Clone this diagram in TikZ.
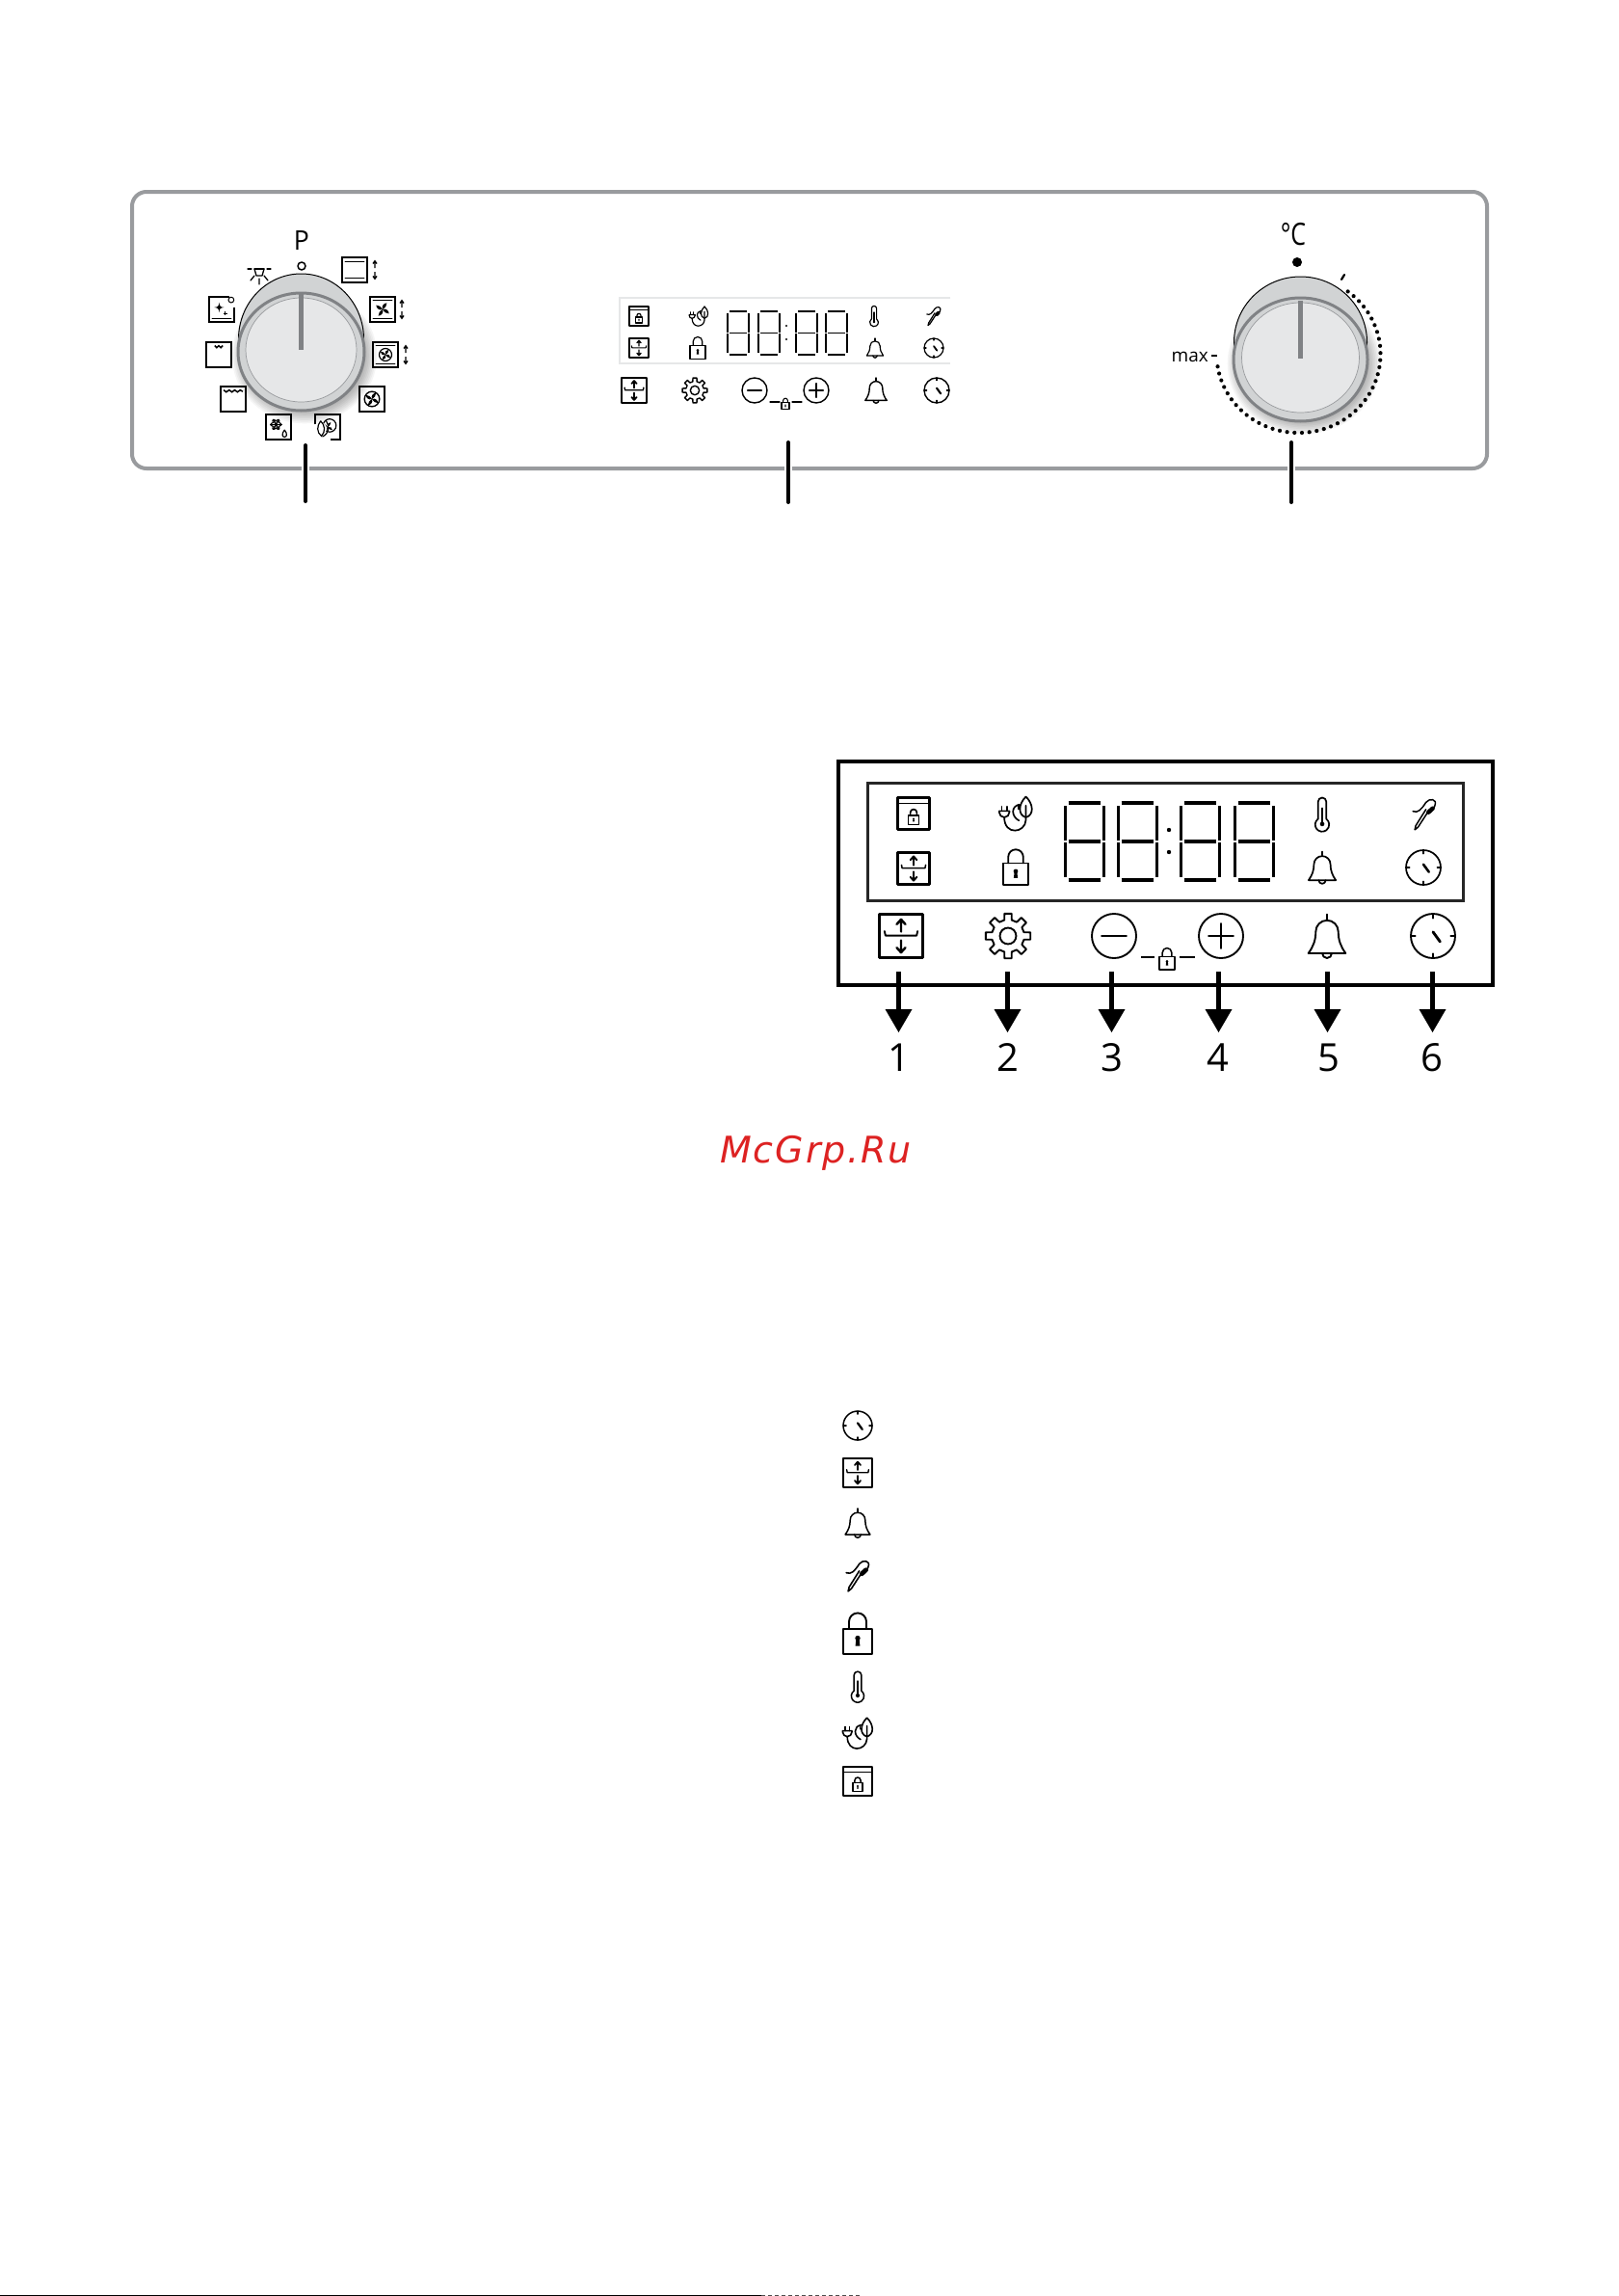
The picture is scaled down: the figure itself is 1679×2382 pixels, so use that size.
\documentclass[tikz,border=0pt]{standalone}
\usepackage{fontspec}
\setmainfont{Open Sans}
\newfontfamily\wmfont{DejaVu Sans}
\definecolor{panelgray}{HTML}{999B9E}
\definecolor{bodygray}{HTML}{D1D3D4}
\definecolor{facegray}{HTML}{E6E7E8}
\definecolor{rimgray}{HTML}{808285}
\definecolor{wmred}{HTML}{DD2222}
\tikzset{
  ink/.style={draw=black,line cap=round,line join=round},
  leader/.style={draw=black,line width=4pt,line cap=round},
  halo/.style={draw=white,line width=8pt},
  callout/.style={draw=black,line width=4.5pt,shorten >=20pt},
  callhead/.style={fill=black,draw=none},
  digitlabel/.style={font=\fontsize{40}{40}\selectfont,inner sep=0pt,anchor=center},
  seg/.style={draw=black,line cap=butt},
  fnline/.style={line width=1.5pt,line join=miter},
  fnthin/.style={line width=1.2pt,line cap=round}
}
\newcommand{\iclock}[4]{\begin{scope}[shift={(#1,#2)},scale=#3,line width=#4pt]
 \draw[ink] (0,0) circle[radius=50];
 \draw[ink] (0,-50)--(0,-40) (0,50)--(0,40) (-50,0)--(-40,0) (50,0)--(40,0);
 \draw[ink,line width=1.5*#4pt] (0,-9)--(16,13);
\end{scope}}
\newcommand{\iupdown}[4]{\begin{scope}[shift={(#1,#2)},scale=#3,line width=#4pt]
 \draw[ink,line width=1.4*#4pt,line cap=butt] (-50,-50) rectangle (50,50);
 \draw[ink] (-38,-11)--(-36,-1)--(36,-1)--(38,-11);
 \draw[ink,line width=1.3*#4pt] (0,-10)--(0,-38) (-10,-27)--(0,-38)--(10,-27);
 \draw[ink,line width=1.3*#4pt] (0,10)--(0,38) (-10,27)--(0,38)--(10,27);
\end{scope}}
\newcommand{\ibell}[4]{\begin{scope}[shift={(#1,#2)},scale=#3,line width=#4pt]
 \draw[ink] (0,-50)--(0,-38);
 \draw[ink] (-43,40)--(43,40) .. controls (32,25) and (26,10) .. (26,-10)
   arc (0:-180:26) .. controls (-26,10) and (-32,25) .. (-43,40);
 \draw[ink] (-11,40) arc (180:0:11);
\end{scope}}
\newcommand{\ilockbody}{%
 \draw[ink] (-50,-17) rectangle (50,70);
 \draw[ink] (-30,-17)--(-30,-42) arc (180:360:30)--(30,-17);
 \fill (0,15) circle[radius=9];
 \fill (-5,15)--(5,15)--(8,42)--(-8,42)--cycle;}
\newcommand{\ilock}[4]{\begin{scope}[shift={(#1,#2)},scale=#3,line width=#4pt]
 \ilockbody
\end{scope}}
\newcommand{\ilockbox}[4]{\begin{scope}[shift={(#1,#2)},scale=#3,line width=#4pt]
 \draw[ink,line cap=butt,line width=1.25*#4pt] (-50,-50) rectangle (50,50);
 \draw[ink,line cap=butt,line width=1.1*#4pt] (-50,-32)--(50,-32);
 \begin{scope}[shift={(0,11)},scale=.34]\ilockbody\end{scope}
\end{scope}}
\newcommand{\itherm}[4]{\begin{scope}[shift={(#1,#2)},scale=#3,line width=#4pt]
 \draw[ink] (13,14)--(13,-40) arc (0:-180:13)--(-13,14) arc (234:-54:22);
 \draw[ink] (0,-20)--(0,30);
 \fill (0,30) circle[radius=7];
\end{scope}}
\newcommand{\iprobe}[4]{\begin{scope}[shift={(#1,#2)},scale=#3,line width=#4pt]
 \draw[ink] (-36,-10) .. controls (-20,-4) and (-10,-15) .. (5,-38) .. controls (15,-52) and (42,-50) .. (33,-28) -- (29,-20);
 \draw[ink,line width=3*#4pt] (13,-7)--(26,-19);
 \draw[ink] (12,-9)--(-20,40)--(-30,48)--(-27,35)--(5,-16);
\end{scope}}
\newcommand{\ieco}[4]{\begin{scope}[shift={(#1,#2)},scale=#3,line width=#4pt]
 \draw[ink] (32,-53) .. controls (8,-30) and (6,5) .. (32,12) .. controls (58,5) and (56,-30) .. (32,-53);
 \draw[ink] (32,-25)--(32,20) .. controls (30,62) and (-36,70) .. (-36,12);
 \draw[ink] (12,-28) .. controls (-16,-24) and (-14,10) .. (10,22);
 \draw[ink] (8,-28) -- (8,-14);
 \draw[ink] (-20,-8)--(-20,-4) arc (0:180:16)--(-52,-8)--cycle;
 \draw[ink] (-44,-8)--(-44,-22) (-28,-8)--(-28,-22);
\end{scope}}
\newcommand{\igear}[4]{\begin{scope}[shift={(#1,#2)},scale=#3,line width=#4pt]
 \draw[ink] (-13:36) \foreach \a in {0,45,...,315}{ -- ({\a-13}:36) -- ({\a-9}:50) -- ({\a+9}:50) -- ({\a+13}:36)} -- cycle;
 \draw[ink] (0,0) circle[radius=18];
\end{scope}}
\newcommand{\iminus}[4]{\begin{scope}[shift={(#1,#2)},scale=#3,line width=#4pt]
 \draw[ink] (0,0) circle[radius=50];
 \draw[ink] (-28,0)--(28,0);
\end{scope}}
\newcommand{\iplus}[4]{\begin{scope}[shift={(#1,#2)},scale=#3,line width=#4pt]
 \draw[ink] (0,0) circle[radius=50];
 \draw[ink] (-28,0)--(28,0) (0,-28)--(0,28);
\end{scope}}
\newcommand{\lcd}[6]{\begin{scope}[shift={(#1,#2)},x=1pt,y=1pt]
 \pgfmathsetmacro{\g}{#5*0.9}
 \pgfmathsetmacro{\m}{#4/2}
 \draw[seg,line width=#5pt] (0,\g)--(0,\m-\g*.3) (0,\m+\g*.3)--(0,#4-\g) (#3,\g)--(#3,\m-\g*.3) (#3,\m+\g*.3)--(#3,#4-\g);
 \draw[seg,line width=#6pt] (\g,0)--(#3-\g,0) (\g,\m)--(#3-\g,\m) (\g,#4)--(#3-\g,#4);
\end{scope}}
\newcommand{\fanglyph}[1]{\begin{scope}[scale=#1]
 \foreach \a in {45,135,225,315}{
  \fill[rotate=\a] (0,0) .. controls (6,-14) and (22,-14) .. (30,-6) .. controls (22,0) and (10,6) .. (0,0);}
\end{scope}}
\newcommand{\ubox}{\draw[fnline] (-50,-50) rectangle (50,50);}
\newcommand{\updownsmall}[2]{\begin{scope}[shift={(#1,#2)},line width=1.3pt]
 \draw (0,-9)--(0,-2) (-2,-6.5)--(0,-9.3)--(2,-6.5);
 \draw (0,2)--(0,9) (-2,6.5)--(0,9.3)--(2,6.5);
\end{scope}}
\begin{document}
\begin{tikzpicture}[x=1pt,y=1pt,yscale=-1]
\useasboundingbox (0,0) rectangle (1679,2382);
\fill[white] (0,0) rectangle (1679,2382);

% ---------- top panel ----------
\draw[panelgray,line width=4pt,rounded corners=15pt] (137,199) rectangle (1543,486);

% left knob
\foreach \k in {1,...,9}{\fill[black,opacity=.04] (316,369) ellipse[x radius={60+\k*1.7},y radius={55+\k*1.7}];}
\fill[bodygray,draw=black,line width=1pt] (312.5,352) ellipse[x radius=65,y radius=68];
\fill[bodygray,draw=rimgray,line width=3pt] (312.5,365) ellipse[x radius=65.5,y radius=61];
\fill[facegray,draw=panelgray,line width=.7pt] (312.5,363) ellipse[x radius=57.5,y radius=54];
\fill[rimgray] (309.5,305) rectangle (315,363);

\node[inner sep=0pt] (pLabel) at (313,250) {\scalebox{.95}[1]{\fontsize{28}{28}\selectfont P}};
\draw[ink,line width=1.5pt] (313,276) circle[radius=4];
% lamp
\begin{scope}[shift={(269,285)},line width=1.3pt]
 \draw[ink] (-12,-6)--(-8,-6) (-5,-6)--(5,-6) (8,-6)--(12,-6);
 \draw[ink] (-5,-6)--(-3,1)--(3,1)--(5,-6);
 \draw[ink] (0,4)--(0,10) (-5,1)--(-9,6) (5,1)--(9,6);
\end{scope}
% oven function icons
\begin{scope}[shift={(368,280)},scale=.26] \ubox \draw[fnthin] (-38,-33)--(38,-33) (-38,33)--(38,33); \end{scope}
\updownsmall{389}{280}
\begin{scope}[shift={(397,321)},scale=.26] \ubox \draw[fnthin] (-38,-36)--(38,-36) (-38,36)--(38,36); \fanglyph{1.0} \end{scope}
\updownsmall{417}{321}
\begin{scope}[shift={(400,368)},scale=.26] \ubox \draw[fnthin] (-38,-36)--(38,-36) (-38,36)--(38,36); \fanglyph{.8} \draw[fnthin] (0,0) circle[radius=25]; \end{scope}
\updownsmall{421}{368}
\begin{scope}[shift={(386,414)},scale=.26] \ubox \fanglyph{.95} \draw[line width=1.4pt] (0,0) circle[radius=30]; \end{scope}
% eco fan (box open at lower left)
\begin{scope}[shift={(340,443)},scale=.26]
 \draw[fnline] (-50,-10)--(-50,-50)--(50,-50)--(50,50)--(10,50);
 \fanglyph{.75} \draw[fnthin] (8,-6) circle[radius=26];
 \fill[white] (-28,6) circle[radius=24];
 \draw[fnthin] (-28,-24) .. controls (-44,-5) and (-44,22) .. (-25,36) .. controls (-8,20) and (-10,-8) .. (-28,-24);
 \draw[fnthin] (-6,-25) .. controls (8,0) and (6,25) .. (-20,38);
\end{scope}
% frost
\begin{scope}[shift={(289,443)},scale=.26]
 \ubox
 \foreach \a in {0,60,120}{\draw[line width=1.5pt,rotate around={\a:(-10,-10)}] (-34,-10)--(14,-10);}
 \foreach \a in {0,60,...,300}{\draw[line width=1.1pt,rotate around={\a:(-10,-10)}] (-18,-30)--(-10,-24)--(-2,-30);}
 \draw[fnthin] (24,12) .. controls (12,26) and (14,40) .. (24,40) .. controls (34,40) and (36,26) .. (24,12);
\end{scope}
% bottom heat large
\begin{scope}[shift={(242,414)},scale=.26]
 \ubox
 \draw[line width=1.5pt] (-38,-36)--(-28,-28)--(-16,-36)--(-5,-28)--(6,-36)--(17,-28)--(28,-36)--(38,-30);
\end{scope}
% bottom heat small
\begin{scope}[shift={(227,368)},scale=.26]
 \ubox
 \draw[line width=1.5pt] (-16,-36)--(-8,-28)--(0,-36)--(8,-28)--(16,-36);
\end{scope}
% cleaning
\begin{scope}[shift={(230,321)},scale=.26]
 \draw[fnline] (30,-50)--(-50,-50)--(-50,50)--(50,50)--(50,-6);
 \draw[fnthin] (-38,35)--(38,35);
 \fill (-10,-28) .. controls (-8,-12) and (-6,-10) .. (10,-8) .. controls (-6,-6) and (-8,-4) .. (-10,12) .. controls (-12,-4) and (-14,-6) .. (-30,-8) .. controls (-14,-10) and (-12,-12) .. (-10,-28);
 \draw[line width=1.1pt] (15,8)--(15,24) (7,16)--(23,16);
 \draw[line width=1pt] (38,-38) circle[radius=11];
\end{scope}

% centre display
\draw[facegray,line width=2pt] (986,309)--(643,309)--(643,377)--(986,377);
\begin{scope}[shift={(1,0)}]
\ilockbox{662}{328}{.2}{1.2}
\ieco{724}{328}{.19}{1.2}
\lcd{754}{323}{22}{45}{2.4}{1.6}
\lcd{786}{323}{22}{45}{2.4}{1.6}
\lcd{825}{323}{22}{45}{2.4}{1.6}
\lcd{856}{323}{22}{45}{2.4}{1.6}
\fill (815,338) circle[radius=1.2] (815,352) circle[radius=1.2];
\itherm{906}{328}{.2}{1.2}
\iprobe{968}{328}{.2}{1.2}
\iupdown{662}{361}{.2}{1.1}
\ilock{723}{361}{.16}{1.2}
\ibell{907}{361}{.2}{1.2}
\iclock{968}{361}{.2}{1.2}
\iupdown{657}{405}{.26}{1.4}
\igear{720}{405}{.26}{1.4}
\iminus{782}{405}{.26}{1.4}
\draw[ink,line width=1.2pt] (798,417)--(808,417) (821,417)--(831,417);
\ilock{814}{419}{.08}{1.1}
\iplus{846}{405}{.26}{1.4}
\ibell{908}{405}{.26}{1.4}
\iclock{971}{405}{.26}{1.4}
\end{scope}

% right knob
\foreach \k in {1,...,9}{\fill[black,opacity=.04] (1353,377) ellipse[x radius={64+\k*1.7},y radius={58+\k*1.7}];}
\fill[bodygray,draw=black,line width=1pt] (1349.5,355) ellipse[x radius=69,y radius=68];
\fill[bodygray,draw=rimgray,line width=3pt] (1349.5,373) ellipse[x radius=69.5,y radius=64];
\fill[facegray,draw=panelgray,line width=.7pt] (1349.5,371) ellipse[x radius=61,y radius=57];
\fill[rimgray] (1346.5,312) rectangle (1352,372);
\node[inner sep=0pt] (cLabel) at (1342,243) {\scalebox{.78}[1]{\fontsize{32}{32}\selectfont °C}};
\fill (1346,272) circle[radius=5];
\foreach \k in {0,...,43}{\fill (\fpeval{1347.5+85*cosd(53-\k*224/43)},\fpeval{367.5-81.5*sind(53-\k*224/43)}) circle[radius=2.1];}
\draw[ink,line width=2.2pt] (1392,290)--(1395,285);
\node[inner sep=0pt,anchor=east] (maxLabel) at (1254,370) {\fontsize{19}{19}\selectfont max};
\draw[line width=1.6pt] (1257,369)--(1263,369);

% leaders
\coordinate (l1a) at (317,462); \coordinate (l1b) at (317,520);
\coordinate (l2a) at (818,459); \coordinate (l2b) at (818,521);
\coordinate (l3a) at (1340,459); \coordinate (l3b) at (1340,521);
\draw[halo] (317,475)--(317,497) (818,475)--(818,497) (1340,475)--(1340,497);
\draw[leader] (l1a)--(l1b);
\draw[leader] (l2a)--(l2b);
\draw[leader] (l3a)--(l3b);

% ---------- enlarged control panel ----------
\draw[black,line width=4.5pt] (870,790) rectangle (1549,1022);
\draw[black!85,line width=3pt] (900,812) rectangle (1518,934);
\begin{scope}[shift={(1,0)}]
\ilockbox{947}{844}{.33}{1.7}
\ieco{1053}{844}{.33}{1.7}
\iupdown{947}{901}{.33}{1.5}
\ilock{1053}{900}{.26}{1.8}
\lcd{1104.5}{833}{40}{80}{3.5}{3.4}
\lcd{1159.5}{833}{40}{80}{3.5}{3.4}
\lcd{1224.5}{833}{40}{80}{3.5}{3.4}
\lcd{1280.5}{833}{40}{80}{3.5}{3.4}
\fill (1212,861) circle[radius=2.2] (1212,884) circle[radius=2.2];
\itherm{1371}{845}{.33}{1.7}
\iprobe{1477}{845}{.33}{1.5}
\ibell{1371}{900}{.33}{1.7}
\iclock{1476}{900}{.36}{1.7}
\iupdown{934}{971}{.45}{1.9}
\igear{1045}{971}{.47}{1.9}
\iminus{1155}{971}{.46}{1.9}
\draw[line width=1.7pt] (1183,993)--(1197,993) (1223,993)--(1239,993);
\ilock{1210}{995}{.16}{1.5}
\iplus{1266}{971}{.46}{1.9}
\ibell{1376}{971}{.45}{1.9}
\iclock{1486}{971}{.46}{1.9}
\end{scope}

% callout arrows and digits
\foreach \n/\ax/\tx in {1/932.5/933,2/1045.5/1046,3/1153.5/1154,4/1264.5/1264,5/1377.5/1379,6/1486.5/1486}{
  \coordinate (as\n) at (\ax,1008);
  \coordinate (ae\n) at (\ax,1071);
  \draw[callout] (as\n)--(ae\n);
  \fill[callhead] (\ax-14,1047)--(\ax+14,1047)--(ae\n)--cycle;
  \node[digitlabel] (num\n) at (\tx,1097) {\n};
}

% watermark
\node[inner sep=0pt,anchor=base west,text=wmred] (wm) at (747,1206) {\wmfont\addfontfeatures{LetterSpace=5}\fontsize{38}{38}\selectfont\itshape McGrp.Ru};

% ---------- symbol list ----------
\begin{scope}[shift={(1,0)}]
\iclock{889}{1479}{.3}{1.5}
\iupdown{889}{1528}{.3}{1.4}
\ibell{889}{1580}{.3}{1.5}
\iprobe{889}{1635}{.33}{1.6}
\ilock{889}{1695}{.3}{1.9}
\itherm{889}{1750}{.3}{1.5}
\ieco{889}{1798}{.3}{1.6}
\ilockbox{889}{1848}{.3}{1.5}
\end{scope}

% page edge rule
\draw[black,line width=1.2pt] (0,2381.4)--(790,2381.4);
\draw[black!70,line width=1.2pt,dash pattern=on 4pt off 3pt] (790,2381.4)--(892,2381.4);
\end{tikzpicture}
\end{document}
